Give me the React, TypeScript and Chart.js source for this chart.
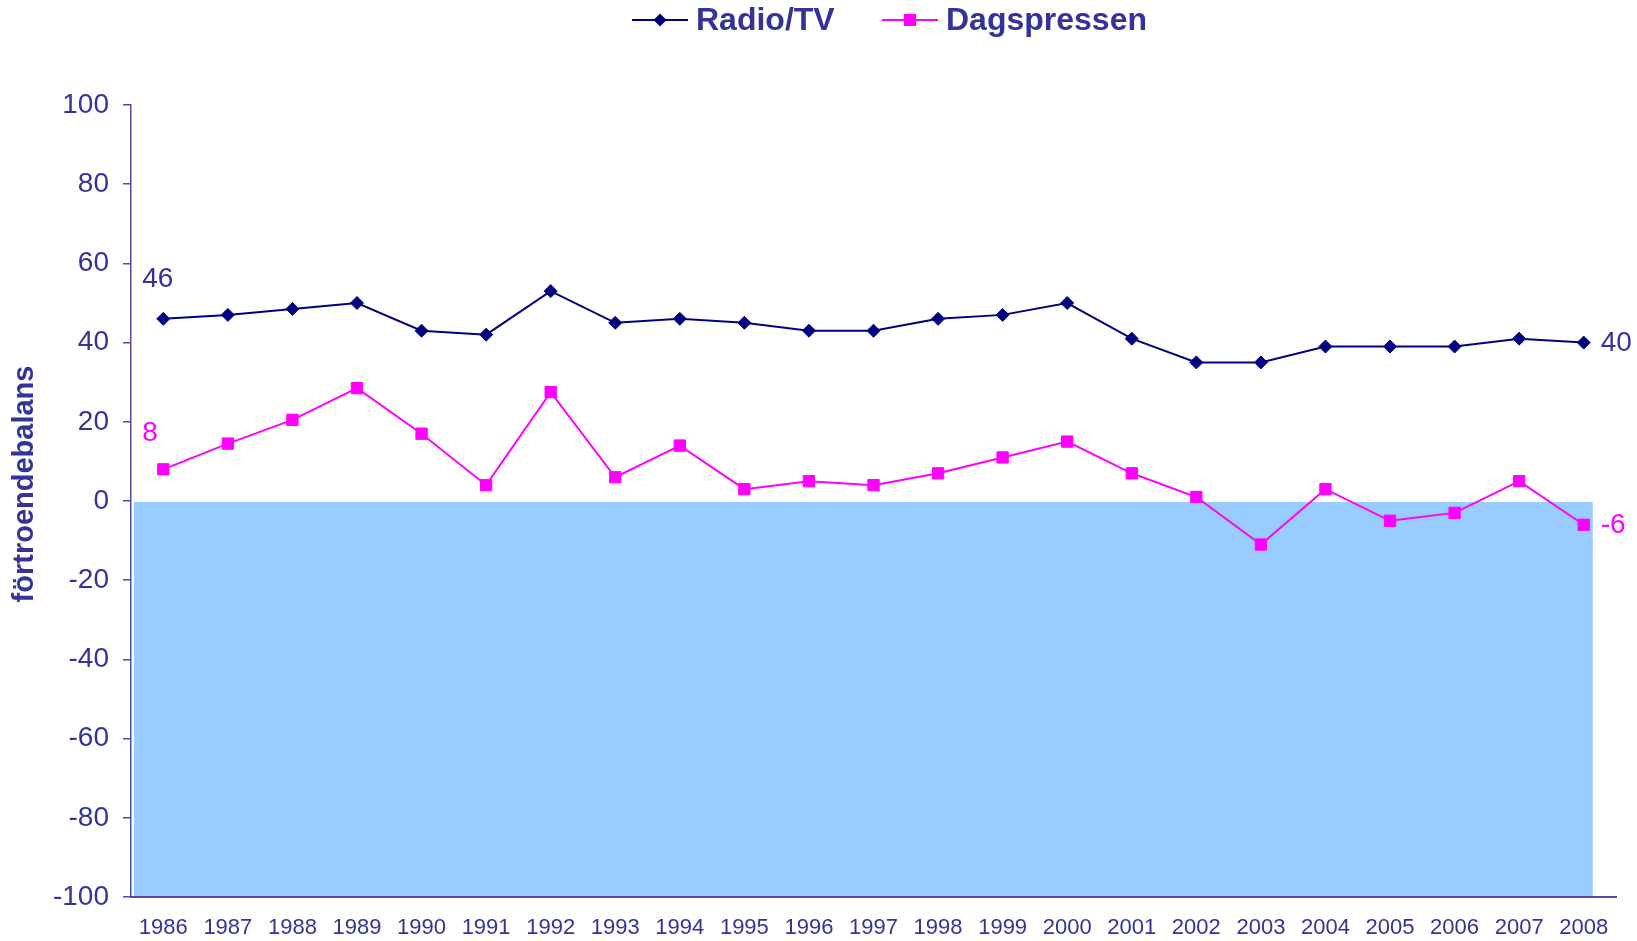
import React, { useEffect, useRef } from 'react';
import { Chart, registerables } from 'chart.js';

Chart.register(...registerables);

const years = ['1986', '1987', '1988', '1989', '1990', '1991', '1992', '1993', '1994', '1995', '1996', '1997', '1998', '1999', '2000', '2001', '2002', '2003', '2004', '2005', '2006', '2007', '2008'];
const radioTv = [46, 47, 48.5, 50, 43, 42, 53, 45, 46, 45, 43, 43, 46, 47, 50, 41, 35, 35, 39, 39, 39, 41, 40];
const dagspressen = [8, 14.5, 20.5, 28.5, 17, 4, 27.5, 6, 14, 3, 5, 4, 7, 11, 15, 7, 1, -11, 3, -5, -3, 5, -6];
const seriesNames = ['Radio/TV', 'Dagspressen'];
const yMin = -100;
const yMax = 100;
const yStep = 20;
const bandRange = [0, -100];
const yTitle = 'förtroendebalans';

const FONT = '"Liberation Sans", Arial, Helvetica, sans-serif';
const TEXT = '#333399';
const NAVY = '#000080';
const MAGENTA = '#FF00FF';
const AXIS = '#4d4da6';

function drawMarker(ctx: CanvasRenderingContext2D, style: string, x: number, y: number, color: string) {
  ctx.save();
  ctx.fillStyle = color;
  ctx.beginPath();
  if (style === 'rectRot') {
    const r = 6.5;
    ctx.moveTo(x, y - r);
    ctx.lineTo(x + r, y);
    ctx.lineTo(x, y + r);
    ctx.lineTo(x - r, y);
    ctx.closePath();
  } else {
    const s = 6;
    ctx.rect(x - s, y - s, 2 * s, 2 * s);
  }
  ctx.fill();
  ctx.restore();
}

const bandPlugin = {
  id: 'band',
  beforeDatasetsDraw(chart: any) {
    const { ctx, chartArea, scales } = chart;
    const x = scales.x;
    const y = scales.y;
    const top = y.getPixelForValue(bandRange[0]);
    const bottom = y.getPixelForValue(bandRange[1]);
    const left = chartArea.left + 3;
    const right = x.getPixelForValue(years.length - 1) + 9;
    ctx.save();
    ctx.fillStyle = '#99CCFF';
    ctx.fillRect(left, top + 1, right - left, bottom - top - 2);
    ctx.restore();
  },
};

const customLegend = {
  id: 'customLegend',
  afterDraw(chart: any) {
    const { ctx } = chart;
    const starts = [632, 882];
    ctx.save();
    ctx.font = `bold 32px ${FONT}`;
    ctx.textBaseline = 'middle';
    ctx.textAlign = 'left';
    const y = 20;
    chart.data.datasets.forEach((ds: any, i: number) => {
      const x = starts[i];
      ctx.strokeStyle = ds.borderColor;
      ctx.lineWidth = 2;
      ctx.beginPath();
      ctx.moveTo(x, y);
      ctx.lineTo(x + 56, y);
      ctx.stroke();
      drawMarker(ctx, ds.pointStyle, x + 28, y, ds.borderColor);
      ctx.fillStyle = TEXT;
      ctx.fillText(ds.label, x + 64, y + 1);
    });
    ctx.restore();
  },
};

const endLabels = {
  id: 'endLabels',
  afterDatasetsDraw(chart: any) {
    const { ctx } = chart;
    const firstDy = [-40, -36];
    ctx.save();
    ctx.font = `28px ${FONT}`;
    ctx.textBaseline = 'middle';
    ctx.textAlign = 'left';
    chart.data.datasets.forEach((ds: any, i: number) => {
      const meta = chart.getDatasetMeta(i);
      const pts = meta.data;
      const n = pts.length;
      ctx.fillStyle = i === 0 ? TEXT : MAGENTA;
      const p0 = pts[0];
      ctx.fillText(String(ds.data[0]), p0.x - 21, p0.y + firstDy[i]);
      const pn = pts[n - 1];
      ctx.fillText(String(ds.data[n - 1]), pn.x + 17, pn.y + 1);
    });
    ctx.restore();
  },
};

const yTitlePlugin = {
  id: 'yTitle',
  afterDraw(chart: any) {
    const { ctx, chartArea } = chart;
    ctx.save();
    ctx.font = `bold 29px ${FONT}`;
    ctx.fillStyle = TEXT;
    ctx.textAlign = 'center';
    ctx.textBaseline = 'alphabetic';
    ctx.translate(33, (chartArea.top + chartArea.bottom) / 2 - 17);
    ctx.rotate(-Math.PI / 2);
    ctx.fillText(yTitle, 0, 0);
    ctx.restore();
  },
};

export default function App() {
  const ref = useRef<HTMLCanvasElement>(null);

  useEffect(() => {
    document.body.style.margin = '0';
    const canvas = ref.current;
    if (!canvas) return;
    Chart.defaults.font.family = FONT;
    const chart = new Chart(canvas, {
      type: 'line',
      data: {
        labels: years,
        datasets: [
          {
            label: seriesNames[0],
            data: radioTv,
            borderColor: NAVY,
            backgroundColor: NAVY,
            borderWidth: 2,
            pointStyle: 'rectRot',
            pointRadius: 6.5,
            pointBorderWidth: 1,
            tension: 0,
          },
          {
            label: seriesNames[1],
            data: dagspressen,
            borderColor: MAGENTA,
            backgroundColor: MAGENTA,
            borderWidth: 2,
            pointStyle: 'rect',
            pointRadius: 8,
            pointBorderWidth: 1,
            tension: 0,
          },
        ],
      },
      options: {
        responsive: false,
        animation: false,
        events: [],
        layout: { padding: { top: 105, right: 21, bottom: 0, left: 0 } },
        plugins: {
          legend: { display: false },
          tooltip: { enabled: false },
          title: { display: false },
        },
        scales: {
          x: {
            offset: true,
            grid: { display: false, drawTicks: false },
            border: { display: true, color: AXIS, width: 2 },
            ticks: {
              color: TEXT,
              font: { size: 22 },
              padding: 18,
              maxRotation: 0,
              autoSkip: false,
            },
            afterFit: (s: any) => {
              s.height = 44;
            },
          },
          y: {
            min: yMin,
            max: yMax,
            grid: {
              display: true,
              drawOnChartArea: false,
              drawTicks: true,
              tickLength: 8,
              color: AXIS,
              lineWidth: 1.5,
            },
            border: { display: true, color: AXIS, width: 1.5 },
            ticks: {
              stepSize: yStep,
              color: TEXT,
              font: { size: 28 },
              padding: 14,
            },
            afterFit: (s: any) => {
              s.width = 131;
            },
          },
        },
      },
      plugins: [bandPlugin, endLabels, customLegend, yTitlePlugin],
    });
    return () => chart.destroy();
  }, []);

  return (
    <div style={{ width: 1637, height: 941, position: 'relative', background: '#fff' }}>
      <canvas ref={ref} width={1637} height={941} style={{ display: 'block' }} />
    </div>
  );
}
